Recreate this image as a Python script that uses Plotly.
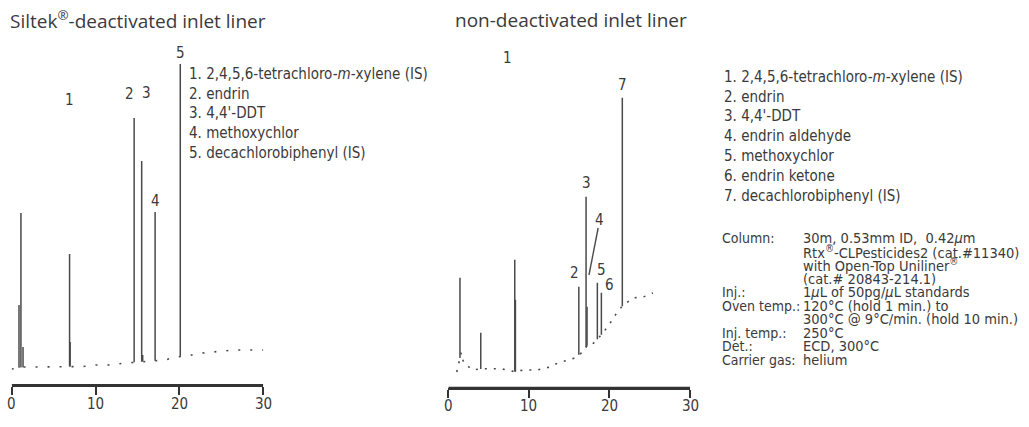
import numpy as np
import plotly.graph_objects as go

# ---------------- data ----------------
# Left chromatogram: Siltek-deactivated liner
left_base_t = [0, 1.5, 2.5, 4, 6, 8.5, 10, 11.5, 13.7, 15, 16.5, 18.3, 19.5, 21, 22.2, 23.7, 26.4, 30]
left_base_v = [16, 18, 18, 18, 18.5, 18.5, 20, 20, 22, 23, 24, 25, 28, 29, 31.5, 33, 35, 35]
left_peak_t = [0.87, 1.1, 1.35, 6.9, 6.97, 14.6, 15.5, 15.62, 17.1, 20.1]
left_peak_h = [80, 172, 38, 131, 43, 267, 224, 30, 173, 321]
left_labels = ["1", "2", "3", "4", "5"]
left_label_t = [6.95, 14.0, 16.1, 17.1, 20.1]

# Right chromatogram: non-deactivated liner
right_base_t = [1.05, 1.6, 1.9, 3.0, 4.2, 6.5, 8.3, 9.3, 11, 12.6, 13.6, 14.7, 15.7, 16.2, 16.7,
                17.3, 17.8, 18.4, 19.2, 20.1, 20.9, 21.5, 22.9, 24.2, 25.4]
right_base_v = [15.7, 35, 25, 17.7, 19, 19, 16, 17.7, 17.7, 20.7, 24.7, 27.7, 29.7, 33, 35.7,
                43, 42.7, 47.7, 54.7, 64.7, 74.7, 80.7, 89.7, 90.7, 94.7]
right_peak_t = [1.45, 4.03, 8.25, 8.33, 16.2, 17.1, 17.22, 18.5, 19.0, 21.6]
right_peak_h = [110, 55, 128, 88, 101, 191, 81, 105, 95, 290]
right_labels = ["1", "2", "3", "4", "5", "6", "7"]

ticks = [0, 10, 20, 30]
tick_text = ["0", "10", "20", "30"]

left_legend = [
    "1. 2,4,5,6-tetrachloro-<i>m</i>-xylene (IS)",
    "2. endrin",
    "3. 4,4'-DDT",
    "4. methoxychlor",
    "5. decachlorobiphenyl (IS)",
]
right_legend = [
    "1. 2,4,5,6-tetrachloro-<i>m</i>-xylene (IS)",
    "2. endrin",
    "3. 4,4'-DDT",
    "4. endrin aldehyde",
    "5. methoxychlor",
    "6. endrin ketone",
    "7. decachlorobiphenyl (IS)",
]
cond_keys = ["Column:", "", "", "", "Inj.:", "Oven temp.:", "", "Inj. temp.:", "Det.:", "Carrier gas:"]
cond_vals = [
    "30m, 0.53mm ID,  0.42<i>\u03bc</i>m",
    "Rtx<sup>\u00ae</sup>-CLPesticides2 (cat.#11340)",
    "with Open-Top Uniliner<sup>\u00ae</sup>",
    "(cat.# 20843-214.1)",
    "1<i>\u03bc</i>L of 50pg/<i>\u03bc</i>L standards",
    "120\u00b0C (hold 1 min.) to",
    "300\u00b0C @ 9\u00b0C/min. (hold 10 min.)",
    "250\u00b0C",
    "ECD, 300\u00b0C",
    "helium",
]

# ---------------- styles ----------------
W, H = 1029, 427
NARROW = "DejaVu Sans Condensed, Liberation Sans Narrow, sans-serif"
TITLEF = "Open Sans, Noto Sans, sans-serif"
TXT = "#3a3a3a"
LINE = "#4a4a4a"
AXC = "#333333"


def px_x(p):
    return p / W


def px_y(p):
    return 1 - p / H


def segments(pt, ph, bt, bv):
    xs, ys = [], []
    for t, h in zip(pt, ph):
        b = float(np.interp(t, bt, bv))
        xs += [t, t, None]
        ys += [b, h, None]
    return xs, ys


fig = go.Figure()

lx, ly = segments(left_peak_t, left_peak_h, left_base_t, left_base_v)
rx, ry = segments(right_peak_t, right_peak_h, right_base_t, right_base_v)

fig.add_trace(go.Scatter(x=left_base_t, y=left_base_v, mode="lines", xaxis="x", yaxis="y",
                         line=dict(color=LINE, width=1.6, dash="2px,10px"), hoverinfo="skip"))
fig.add_trace(go.Scatter(x=lx, y=ly, mode="lines", xaxis="x", yaxis="y",
                         line=dict(color=LINE, width=1.5), hoverinfo="skip"))
fig.add_trace(go.Scatter(x=right_base_t, y=right_base_v, mode="lines", xaxis="x2", yaxis="y2",
                         line=dict(color=LINE, width=1.6, dash="2px,7px"), hoverinfo="skip"))
fig.add_trace(go.Scatter(x=rx, y=ry, mode="lines", xaxis="x2", yaxis="y2",
                         line=dict(color=LINE, width=1.5), hoverinfo="skip"))

# axis geometry (pixels)
L_X0, L_X1, L_AX = 11.7, 263.3, 385
R_X0, R_X1, R_AX = 448.3, 690, 387.7
TOP = 30

axis_common = dict(range=[0, 30], tickvals=ticks, ticks="outside", ticklen=8, tickwidth=2,
                   tickcolor=AXC, showline=True, linecolor=AXC, linewidth=2,
                   showgrid=False, zeroline=False, fixedrange=True, showticklabels=False)
yaxis_common = dict(showline=False, showgrid=False, zeroline=False, showticklabels=False,
                    ticks="", fixedrange=True)

fig.update_layout(
    width=W, height=H, margin=dict(l=0, r=0, t=0, b=0),
    paper_bgcolor="white", plot_bgcolor="rgba(0,0,0,0)", showlegend=False,
    xaxis=dict(domain=[px_x(L_X0), px_x(L_X1)], anchor="y", **axis_common),
    yaxis=dict(domain=[px_y(L_AX), px_y(TOP)], range=[0, L_AX - TOP], anchor="x", **yaxis_common),
    xaxis2=dict(domain=[px_x(R_X0), px_x(R_X1)], anchor="y2", **axis_common),
    yaxis2=dict(domain=[px_y(R_AX), px_y(TOP)], range=[0, R_AX - TOP], anchor="x2", **yaxis_common),
)

# explicit axis base lines along each time axis (drawn in axis/domain coordinates)
for xr, yr in (("x", "y domain"), ("x2", "y2 domain")):
    fig.add_shape(type="line", xref=xr, yref=yr, x0=ticks[0], x1=ticks[-1], y0=0, y1=0,
                  line=dict(color=AXC, width=2), layer="above")

ann = []


def text(x, y, s, size, family=NARROW, anchor="left"):
    ann.append(dict(x=px_x(x), y=px_y(y), xref="paper", yref="paper", text=s, showarrow=False,
                    xanchor=anchor, yanchor="middle", font=dict(family=family, size=size, color=TXT)))


# tick labels
for xr, ypx in (("x", 404), ("x2", 406)):
    for tv, tt in zip(ticks, tick_text):
        ann.append(dict(x=tv, y=px_y(ypx), xref=xr, yref="paper", text=tt, showarrow=False,
                        xanchor="center", yanchor="middle",
                        font=dict(family=NARROW, size=15, color=TXT)))

# titles
text(8, 20, "Siltek<sup>\u00ae</sup>-deactivated inlet liner", 19, TITLEF)
text(453, 20, "non-deactivated inlet liner", 19, TITLEF)

# peak labels (pixel positions)
left_label_py = [100, 94, 93, 201, 53]
for lab, t, py in zip(left_labels, left_label_t, left_label_py):
    ann.append(dict(x=t, y=L_AX - py, xref="x", yref="y", text=lab, showarrow=False,
                    xanchor="center", yanchor="middle", font=dict(family=NARROW, size=15, color=TXT)))
right_label_pos = [(7.3, 58), (15.7, 273), (17.1, 183), (18.8, 220), (19.0, 270), (20.0, 285), (21.6, 85)]
for lab, (t, py) in zip(right_labels, right_label_pos):
    ann.append(dict(x=t, y=R_AX - py, xref="x2", yref="y2", text=lab, showarrow=False,
                    xanchor="center", yanchor="middle", font=dict(family=NARROW, size=15, color=TXT)))

# leader line for peak 4 (right)
fig.add_shape(type="line", xref="x2", yref="y2", x0=17.46, y0=R_AX - 275, x1=18.6, y1=R_AX - 228,
              line=dict(color=LINE, width=1.4))

# legends
for i, s in enumerate(left_legend):
    text(187, 74 + 19.7 * i, s, 15)
for i, s in enumerate(right_legend):
    text(722, 76.7 + 19.9 * i, s, 15)

# conditions
for i, (k, v) in enumerate(zip(cond_keys, cond_vals)):
    y = 238 + 13.5 * i
    if k:
        text(720, y, k, 14)
    text(801, y, v, 14.5)

fig.update_layout(annotations=ann)
fig.write_html("out.html", config={"displayModeBar": False},
               post_script="document.body.style.margin='0';document.body.style.overflow='hidden';")
